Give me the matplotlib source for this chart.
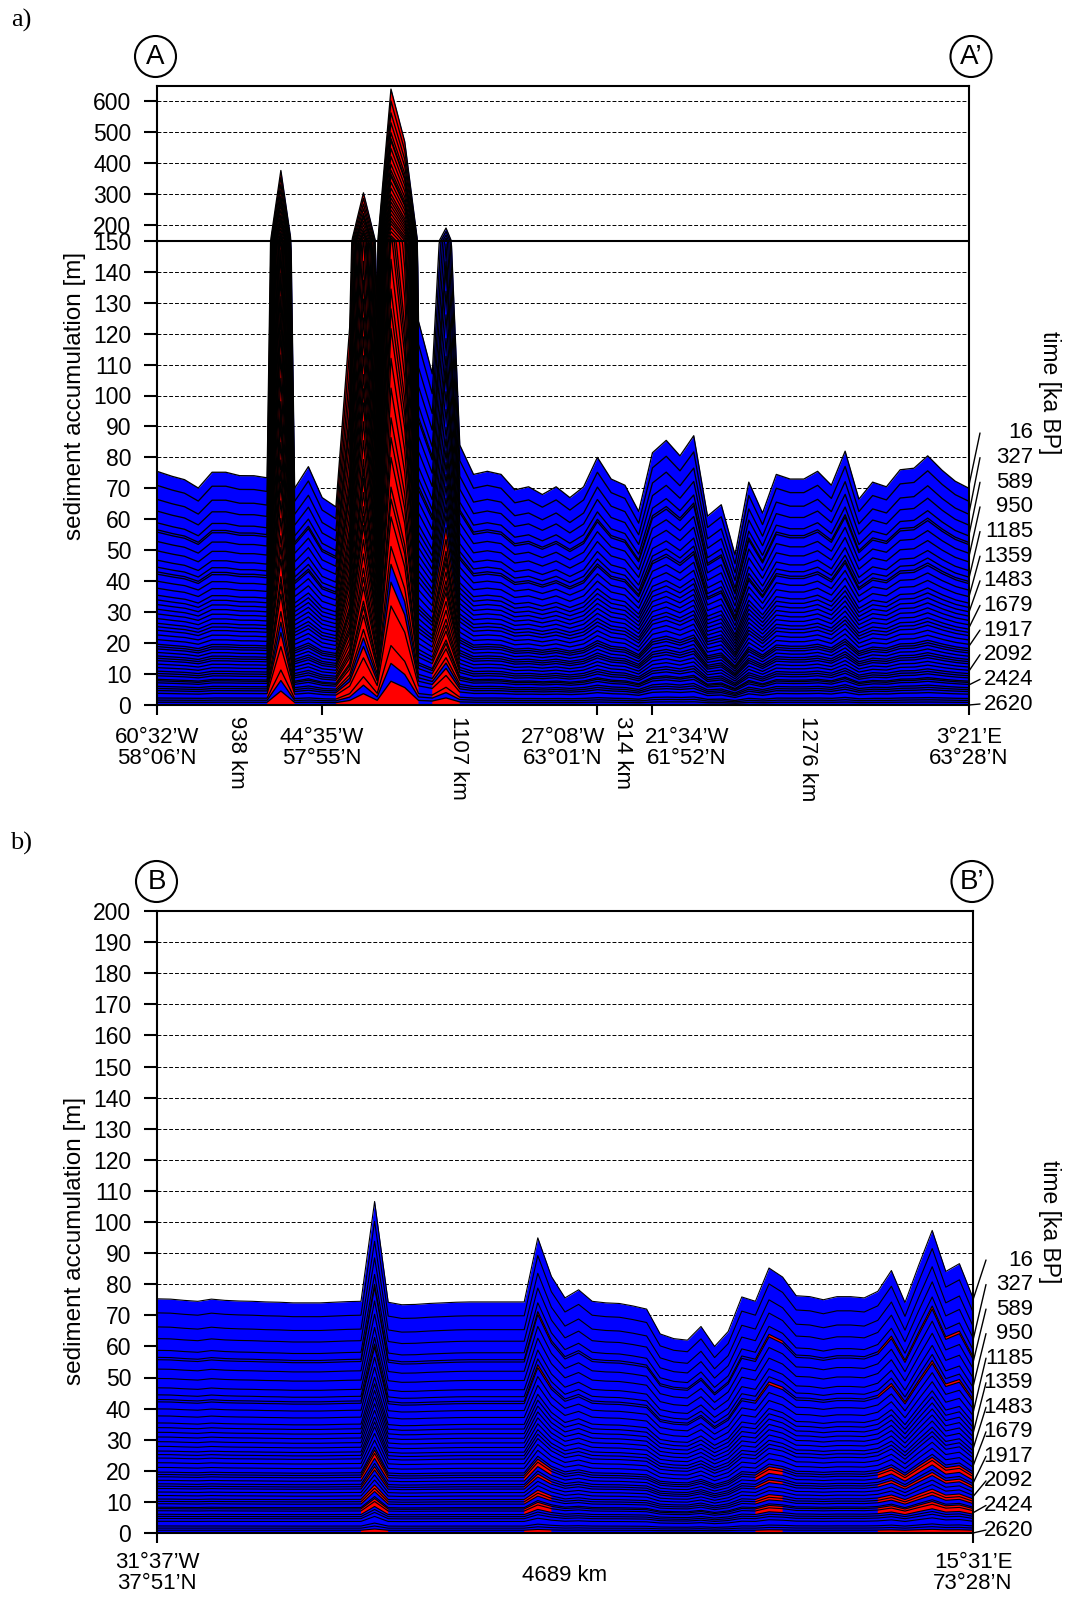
import numpy as np
import matplotlib
matplotlib.use("Agg")
import matplotlib.pyplot as plt
from matplotlib.patches import Ellipse

W, H = 1067, 1599
BLUE = "#0000ff"
RED = "#ff0000"
SANS = "Liberation Sans"
SERIF = "Liberation Serif"

# --- data --------------------------------------------------------------
# profile A-A': surface of the accumulated column at each station [m]
top_a = [75.5, 74.0, 72.8, 70.1, 75.2, 75.2, 74.1, 74.1, 73.4, 377,
         70.0, 77.0, 67.0, 64.0, 122, 305, 126, 640, 470, 124,
         107, 191, 84.0, 74.5, 75.5, 74.5, 69.5, 70.5, 68.0, 70.5,
         67.0, 70.5, 80.0, 73.0, 71.0, 62.5, 81.5, 85.5, 80.5, 87.0,
         61.0, 64.7, 48.5, 72.0, 62.0, 74.5, 73.0, 73.0, 75.5, 71.0,
         82.0, 66.5, 72.0, 70.5, 76.0, 76.5, 80.5, 76.0, 72.3, 70.0]

# profile B-B'
top_b = [75.3, 75.2, 74.8, 74.5, 75.2, 74.8, 74.6, 74.5, 74.3, 74.2,
         74.0, 74.0, 74.0, 74.2, 74.4, 74.5, 106.6, 74.2, 73.4, 73.5,
         73.8, 74.0, 74.2, 74.3, 74.3, 74.3, 74.3, 74.3, 94.9, 82.5,
         75.6, 78.2, 74.5, 74.0, 73.8, 73.0, 72.0, 64.0, 62.5, 62.0,
         66.4, 60.0, 64.8, 75.9, 74.5, 85.2, 82.3, 76.3, 76.0, 75.0,
         76.0, 76.0, 75.6, 77.7, 84.4, 74.1, 86.0, 97.3, 84.1, 86.6,
         75.6]

# time-slice boundaries as share of the local column (base = 0, surface = 1)
layer_frac = [0.0, 0.012, 0.021, 0.03, 0.05, 0.062, 0.071, 0.08, 0.095,
              0.104, 0.11, 0.125, 0.135, 0.145, 0.16, 0.175, 0.19, 0.20,
              0.21, 0.225, 0.24, 0.25, 0.26, 0.28, 0.30, 0.32, 0.335,
              0.35, 0.37, 0.39, 0.41, 0.43, 0.45, 0.47, 0.50, 0.53, 0.56,
              0.57, 0.59, 0.62, 0.66, 0.70, 0.74, 0.75, 0.78, 0.83,
              0.88, 0.94, 1.0]

# red (drift) layers
red_stations_a = [9, 14, 15, 16, 17, 18, 21]
red_depth_a = [48, 48, 48, 48, 48, 48, 24]   # layers from the base
blue_bands_a = [1, 5]
red_stations_b = [16, 28, 45, 54, 57, 59]
red_layers_b = [0, 7, 8, 11, 12, 16, 19, 20, 36, 42]

time_labels = ["16", "327", "589", "950", "1185", "1359", "1483",
               "1679", "1917", "2092", "2424", "2620"]
leader_end_a = [71, 62, 55, 48, 41, 35, 30, 25, 19, 11, 6.5, 0]
leader_end_b = [75, 62, 54.8, 47, 38.6, 32, 27, 21.5, 16, 11.7, 6.5, 0]

yticks_a = list(range(0, 151, 10)) + [200, 300, 400, 500, 600]
yticks_b = list(range(0, 201, 10))


def fx(px):
    return px / W


def fy(py):
    return 1 - py / H


def fwd(y):
    y = np.asarray(y, dtype=float)
    return np.where(y <= 150, y, 150 + (y - 150) / 10)


def inv(t):
    t = np.asarray(t, dtype=float)
    return np.where(t <= 150, t, 150 + (t - 150) * 10)


def red_matrix_a():
    red = np.zeros((len(layer_frac) - 1, len(top_a)), bool)
    for st, d in zip(red_stations_a, red_depth_a):
        red[:d, st] = True
    red[blue_bands_a, :] = False
    return red


def red_matrix_b():
    red = np.zeros((len(layer_frac) - 1, len(top_b)), bool)
    for st in red_stations_b:
        red[red_layers_b, st] = True
    return red


def draw_section(ax, top, red, dense, lw):
    n = len(top)
    xs = np.arange(n)
    # sub-steps so straight segments stay straight in data space on the broken axis
    xf = np.linspace(0, n - 1, (n - 1) * dense + 1)
    bounds = np.outer(layer_frac, top)
    curves = [np.interp(xf, xs, b) for b in bounds]
    ax.fill_between(xf, 0, curves[-1], color=BLUE, lw=0, zorder=1)
    seg_red = red[:, :-1] | red[:, 1:]
    for j in range(len(layer_frac) - 1):
        mask = np.zeros(len(xf), bool)
        for i in np.flatnonzero(seg_red[j]):
            mask[i * dense:(i + 1) * dense + 1] = True
        if mask.any():
            ax.fill_between(xf, curves[j], curves[j + 1], where=mask,
                            color=RED, lw=0, zorder=1.1)
    for c in curves[1:]:
        ax.plot(xf, c, color="black", lw=lw, zorder=2)
    ax.set_xlim(0, n - 1)


def style_axes(ax, yticks):
    ax.set_yticks(yticks)
    ax.set_yticklabels([str(v) for v in yticks], fontsize=16.5, family=SANS)
    ax.set_axisbelow(True)
    ax.grid(axis="y", ls=(0, (4, 2)), color="black", lw=0.7)
    ax.grid(axis="x", visible=False)
    ax.tick_params(axis="y", direction="out", length=9.5, width=1.5, pad=9)
    ax.tick_params(axis="x", direction="out", length=7, width=1.5,
                   labelbottom=False)
    for s in ax.spines.values():
        s.set_linewidth(1.5)


def circle_label(cx, cy, text):
    fig.add_artist(Ellipse((fx(cx), fy(cy)), 41 / W, 41 / H,
                           transform=fig.transFigure, fc="white",
                           ec="black", lw=1.5))
    fig.text(fx(cx), fy(cy), text, ha="center", va="center",
             fontsize=20, family=SANS)


def time_axis(ax, label_py, leader_end, start_px, xmax, label_center_py):
    for lab, py, yend in zip(time_labels, label_py, leader_end):
        fig.text(fx(1033), fy(py), lab, ha="right", va="center",
                 fontsize=16, family=SANS)
        ax.annotate("", xy=(xmax, yend), xycoords="data",
                    xytext=(start_px, H - py), textcoords="figure pixels",
                    arrowprops=dict(arrowstyle="-", lw=1.0, color="black",
                                    shrinkA=0, shrinkB=0),
                    annotation_clip=False)
    fig.text(fx(1050), fy(label_center_py), "time [ka BP]", rotation=270,
             ha="center", va="center", fontsize=16.5, family=SANS)


fig = plt.figure(figsize=(W / 100, H / 100), dpi=100)

# === panel a ===
ax_a = fig.add_axes([fx(157), fy(705), (969 - 157) / W, (705 - 86) / H])
ax_a.set_yscale("function", functions=(fwd, inv))
draw_section(ax_a, top_a, red_matrix_a(), dense=20, lw=0.95)
ax_a.set_ylim(0, 650)
style_axes(ax_a, yticks_a)
ax_a.axhline(150, color="black", lw=1.5, zorder=3)
ax_a.set_xticks([0, 12, 32, 36, 59])

lab_kw = dict(ha="center", va="top", fontsize=16, family=SANS,
              linespacing=1.0)
for xs_, txt in [(0, "60°32’W\n58°06’N"), (12, "44°35’W\n57°55’N"),
                 (29.5, "27°08’W\n63°01’N"), (38.5, "21°34’W\n61°52’N"),
                 (59, "3°21’E\n63°28’N")]:
    ax_a.text(xs_, -0.036, txt, transform=ax_a.get_xaxis_transform(), **lab_kw)
for xs_, txt in [(5.8, "938 km"), (21.9, "1107 km"), (33.8, "314 km"),
                 (47.3, "1276 km")]:
    ax_a.text(xs_, -0.017, txt, transform=ax_a.get_xaxis_transform(),
              rotation=270, ha="center", va="top", fontsize=16, family=SANS)

fig.text(fx(75), fy(396), "sediment accumulation [m]", rotation=90,
         ha="center", va="center", fontsize=17.5, family=SANS)
time_axis(ax_a, np.linspace(433, 704, 12), leader_end_a, 980, 59, 393)
circle_label(155.5, 56.5, "A")
circle_label(971, 56.5, "A’")
fig.text(fx(21), fy(20), "a)", ha="center", va="center", fontsize=19,
         family=SERIF)

# === panel b ===
ax_b = fig.add_axes([fx(157), fy(1533), (973 - 157) / W, (1533 - 911) / H])
draw_section(ax_b, top_b, red_matrix_b(), dense=1, lw=0.8)
ax_b.set_ylim(0, 200)
style_axes(ax_b, yticks_b)
ax_b.set_xticks([0, 60])
for xs_, txt in [(0, "31°37’W\n37°51’N"), (60, "15°31’E\n73°28’N")]:
    ax_b.text(xs_, -0.031, txt, transform=ax_b.get_xaxis_transform(), **lab_kw)
ax_b.text(30, -0.069, "4689 km", transform=ax_b.get_xaxis_transform(),
          ha="center", va="center", fontsize=16, family=SANS)

fig.text(fx(75), fy(1241), "sediment accumulation [m]", rotation=90,
         ha="center", va="center", fontsize=17.5, family=SANS)
time_axis(ax_b, np.linspace(1260, 1530, 12), leader_end_b, 986, 60, 1222)
circle_label(156.5, 881.5, "B")
circle_label(972, 881.5, "B’")
fig.text(fx(21), fy(843), "b)", ha="center", va="center", fontsize=19,
         family=SERIF)

fig.savefig("out.png", dpi=100)
